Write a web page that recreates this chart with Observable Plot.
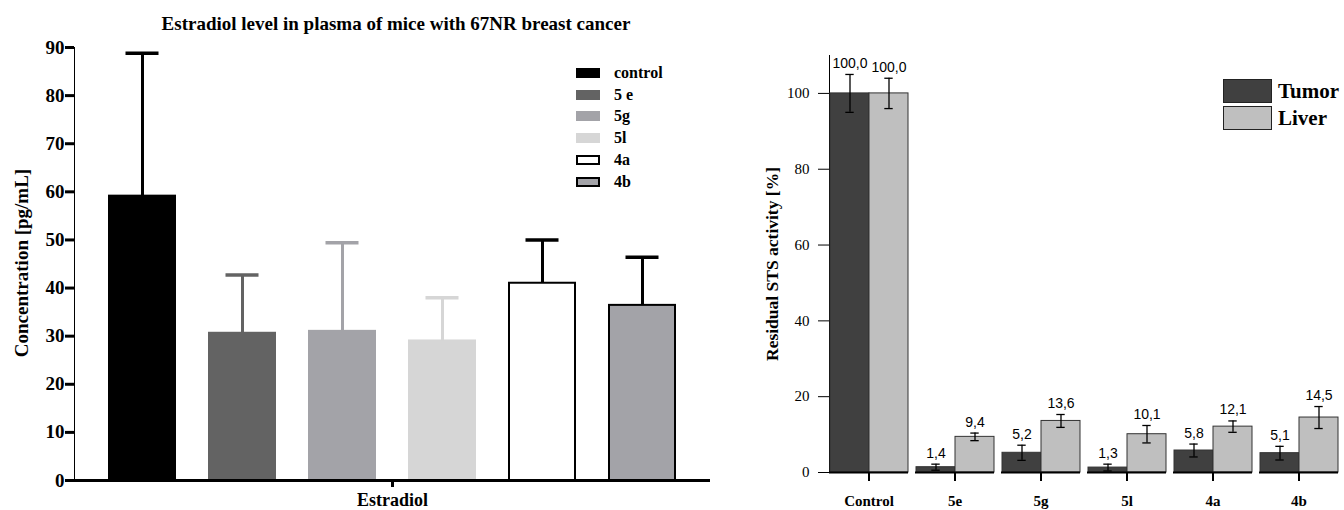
<!DOCTYPE html>
<html>
<head>
<meta charset="utf-8">
<script src="https://cdn.jsdelivr.net/npm/d3@7"></script>
<script src="https://cdn.jsdelivr.net/npm/@observablehq/plot@0.6"></script>
<style>
  body { margin: 0; background: #fff; }
  #wrap { position: relative; width: 1344px; height: 510px; overflow: hidden; font-family: "Liberation Serif", serif; }
  #left { position: absolute; left: 0; top: 0; }
  #right { position: absolute; left: 740px; top: 0; }
  #title { position: absolute; left: 0; width: 792px; top: 13px; line-height: 20px; text-align: center;
           font: bold 19px "Liberation Serif", serif; color: #000; }
  .ylab { position: absolute; transform: translate(-50%, -50%) rotate(-90deg); white-space: nowrap;
          font-family: "Liberation Serif", serif; font-weight: bold; color: #000; line-height: 1; }
  #left g[aria-label^="y-axis"] text { font-family: "Liberation Serif", serif; font-weight: bold; font-size: 19px; }
  #left g[aria-label^="fx-axis"] text { font-family: "Liberation Serif", serif; font-weight: bold; font-size: 18px; }
  #left g[aria-label^="y-axis"] path, #left g[aria-label^="y-axis"] line,
  #left g[aria-label^="fx-axis"] path, #left g[aria-label^="fx-axis"] line { stroke-width: 3px; }
  #right g[aria-label^="y-axis"] text { font-family: "Liberation Serif", serif; font-size: 15px; }
  #right g[aria-label^="fx-axis"] text { font-family: "Liberation Serif", serif; font-weight: bold; font-size: 15px; }
  #right g[aria-label^="fx-axis"] path, #right g[aria-label^="fx-axis"] line { stroke-width: 2px; }
  .legend { position: absolute; font-family: "Liberation Serif", serif; font-weight: bold; color: #000; }
  .legend .row { display: flex; align-items: center; }
  .legend .sw { box-sizing: border-box; flex: none; }
</style>
</head>
<body>
<div id="wrap">
  <div id="title">Estradiol level in plasma of mice with 67NR breast cancer</div>
  <div id="left"></div>
  <div id="right"></div>
  <div class="ylab" style="left:21px; top:263px; font-size:19px;">Concentration [pg/mL]</div>
  <div class="ylab" style="left:773px; top:264px; font-size:17.5px;">Residual STS activity [%]</div>
  <div id="legendLeft" class="legend" style="left:576px; top:62px;"></div>
  <div id="legendRight" class="legend" style="left:1223px; top:79px;"></div>
</div>
<script>
// ---------- Left chart data ----------
const estradiolGroups = ["Estradiol"];
const estradiolSeries = ["control", "5e", "5g", "5l", "4a", "4b"];
const estradiolLegend = ["control", "5 e", "5g", "5l", "4a", "4b"];
const estradiolMean = [59.1, 30.6, 31.0, 29.0, 41.0, 36.4];
const estradiolErr = [29.7, 12.1, 18.4, 9.0, 9.0, 10.0];
const estradiolFill = ["#000000", "#636363", "#a3a3a8", "#d6d6d6", "#ffffff", "#a3a3a8"];
const estradiolStroke = ["#000000", "#636363", "#a3a3a8", "#d6d6d6", "#000000", "#000000"];
const estradiolTicks = [0, 10, 20, 30, 40, 50, 60, 70, 80, 90];

// ---------- Right chart data ----------
const stsGroups = ["Control", "5e", "5g", "5l", "4a", "4b"];
const stsSeries = ["Tumor", "Liver"];
const tumorValues = [100.0, 1.4, 5.2, 1.3, 5.8, 5.1];
const liverValues = [100.0, 9.4, 13.6, 10.1, 12.1, 14.5];
const tumorErr = [5.0, 0.8, 2.0, 0.9, 1.7, 1.8];
const liverErr = [4.0, 1.0, 1.7, 2.3, 1.5, 2.9];
const stsFill = ["#404040", "#bfbfbf"];
const stsTicks = [0, 20, 40, 60, 80, 100];

// ---------- Left chart ----------
const leftData = estradiolSeries.map((s, i) => ({
  group: estradiolGroups[0], series: s, mean: estradiolMean[i],
  hi: estradiolMean[i] + estradiolErr[i], fill: estradiolFill[i], stroke: estradiolStroke[i]
}));

const leftPlot = Plot.plot({
  width: 740, height: 510,
  marginLeft: 74, marginRight: 30, marginTop: 47, marginBottom: 30,
  style: { background: "transparent", fontFamily: "Liberation Serif" },
  facet: { data: leftData, x: "group" },
  fx: { domain: estradiolGroups, padding: 0, label: null, tickSize: 7, tickPadding: 6, line: true },
  x: { domain: estradiolSeries, padding: 0.34, axis: null },
  y: { domain: [0, 90], ticks: estradiolTicks, tickSize: 9, tickPadding: 1, line: true, label: null },
  color: { type: "identity" },
  marks: [
    Plot.barY(leftData, { x: "series", y: "mean", fill: "fill", stroke: "stroke", strokeWidth: 2 }),
    Plot.ruleX(leftData, { x: "series", y1: "mean", y2: "hi", stroke: "stroke", strokeWidth: 3 }),
    Plot.tickY(leftData, { x: "series", y: "hi", stroke: "stroke", strokeWidth: 3.5, insetLeft: 16.5, insetRight: 16.5 }),
    Plot.ruleY([0], { strokeWidth: 3 })
  ]
});
document.getElementById("left").append(leftPlot);

// ---------- Right chart ----------
const rightData = stsGroups.flatMap((g, i) => [
  { group: g, series: stsSeries[0], value: tumorValues[i], err: tumorErr[i] },
  { group: g, series: stsSeries[1], value: liverValues[i], err: liverErr[i] }
]);
const fmt = v => v.toFixed(1).replace(".", ",");

const rightPlot = Plot.plot({
  width: 604, height: 510,
  marginLeft: 83, marginRight: 0, marginTop: 55, marginBottom: 38,
  style: { background: "transparent", fontFamily: "Liberation Serif" },
  facet: { data: rightData, x: "group" },
  fx: { domain: stsGroups, paddingInner: 0.085, paddingOuter: 0.04, label: null, tickSize: 9, tickPadding: 14, line: true },
  x: { domain: stsSeries, padding: 0, axis: null },
  y: { domain: [0, 110], ticks: stsTicks, tickSize: 11, tickPadding: 9, line: true, label: null },
  color: { domain: stsSeries, range: stsFill },
  marks: [
    Plot.barY(rightData, { x: "series", y: "value", fill: "series", stroke: "#333", strokeWidth: 1 }),
    Plot.ruleX(rightData, { x: "series", y1: d => d.value - d.err, y2: d => d.value + d.err, stroke: "#000", strokeWidth: 1.3 }),
    Plot.tickY(rightData, { x: "series", y: d => d.value + d.err, stroke: "#000", strokeWidth: 1.3, insetLeft: 15.3, insetRight: 15.3 }),
    Plot.tickY(rightData, { x: "series", y: d => d.value - d.err, stroke: "#000", strokeWidth: 1.3, insetLeft: 15.3, insetRight: 15.3 }),
    Plot.text(rightData, { x: "series", y: d => d.value + d.err, text: d => fmt(d.value), dy: -11,
                           fontFamily: "Liberation Sans", fontSize: 14, fill: "#000" }),
    Plot.ruleY([0], { strokeWidth: 2 })
  ]
});
document.getElementById("right").append(rightPlot);

// ---------- Legends ----------
const legL = document.getElementById("legendLeft");
estradiolLegend.forEach((name, i) => {
  const row = document.createElement("div");
  row.className = "row";
  row.style.height = "21.8px";
  row.style.fontSize = "16px";
  const sw = document.createElement("div");
  sw.className = "sw";
  const outlined = estradiolStroke[i] === "#000000" && estradiolFill[i] !== "#000000";
  sw.style.cssText = `width:24px;height:10px;background:${estradiolFill[i]};border:${outlined ? "2px solid #000" : "none"}`;
  const lab = document.createElement("span");
  lab.textContent = name;
  lab.style.marginLeft = "14px";
  row.append(sw, lab);
  legL.append(row);
});
const legR = document.getElementById("legendRight");
stsSeries.forEach((name, i) => {
  const row = document.createElement("div");
  row.className = "row";
  row.style.height = "24px";
  row.style.marginBottom = "3px";
  row.style.fontSize = "21px";
  const sw = document.createElement("div");
  sw.className = "sw";
  sw.style.cssText = `width:49px;height:24px;background:${stsFill[i]};border:1px solid #222`;
  const lab = document.createElement("span");
  lab.textContent = name;
  lab.style.marginLeft = "6px";
  row.append(sw, lab);
  legR.append(row);
});
</script>
</body>
</html>
